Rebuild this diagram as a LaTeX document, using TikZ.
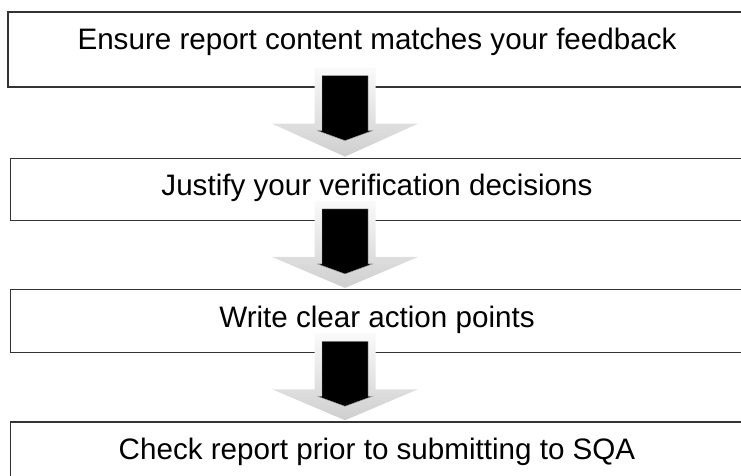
\documentclass[tikz,border=0pt]{standalone}
\usepackage{fontspec}
\setmainfont{Liberation Sans}
\usepackage{tikz}
\usetikzlibrary{positioning, calc}
\tikzset{
    stage/.style={rectangle, draw=black!80, fill=white, line width=1.3pt, inner xsep=0pt, inner ysep=0pt, text height=37.5pt, font=\fontsize{29.6}{36}\selectfont},
    flow/.style={top color=gray!4, bottom color=gray!38, draw=none},
    hflow/.style={fill=black, draw=gray!70, line width=0.4pt},
}
\newcommand{\flowarrow}[2]{
    \path (#1.south -| ax) coordinate (from) (#2.north -| ax) coordinate (to);
    \path[flow] ($(from)+(-30.5,20)$) -- ($(from)+(30.5,20)$) -- ($(from)+(30.5,-36)$) -- ($(from)+(73,-36)$)
        -- ($(to)+(0,1)$) -- ($(from)+(-73,-36)$) -- ($(from)+(-30.5,-36)$) -- cycle;
    \path[hflow] ($(from)+(-23,12)$) -- ($(from)+(23,12)$) -- ($(from)+(23,-43)$) -- ($(from)+(27.5,-43)$)
        -- ($(from)+(0,-53)$) -- ($(from)+(-27.5,-43)$) -- ($(from)+(-23,-43)$) -- cycle;
}

\begin{document}
\begin{tikzpicture}[x=1pt, y=1pt]
                    \clip (0,0) rectangle (741,475);
                    \coordinate (ax) at (345,0);
                    \node [stage, minimum width=738pt, text depth=37.5pt] (feedback) at (377,425.5) {Ensure report content matches your feedback};
                    \node [stage, minimum width=733pt, text depth=24.5pt] (justify) [below=70pt of feedback] {Justify your verification decisions};
                    \node [stage, minimum width=733pt, text depth=25.5pt] (actions) [below=68pt of justify] {Write clear action points};
                    \node [stage, minimum width=733pt, text depth=32.5pt] (check) [below=68pt of actions] {Check report prior to submitting to SQA};
                    \flowarrow{feedback}{justify}
                    \flowarrow{justify}{actions}
                    \flowarrow{actions}{check}
                \end{tikzpicture}
\end{document}
